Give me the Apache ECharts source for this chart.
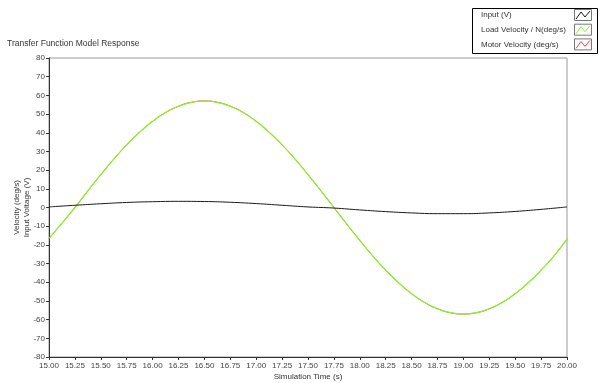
<!DOCTYPE html>
<html>
<head>
<meta charset="utf-8">
<script src="https://cdn.jsdelivr.net/npm/echarts@6/dist/echarts.min.js"></script>
<style>html,body{margin:0;padding:0;background:#fff}#c{width:600px;height:383px}</style>
</head>
<body>
<div id="c"></div>
<script>
const title = 'Transfer Function Model Response';
const xName = 'Simulation Time (s)';
const yName = 'Velocity (deg/s)\nInput Voltage (V)';
const seriesNames = ['Input (V)', 'Load Velocity / N(deg/s)', 'Motor Velocity (deg/s)'];

const velTime = [15.0,15.125,15.25,15.375,15.5,15.625,15.75,15.875,16.0,16.125,16.25,16.375,16.5,16.625,16.75,16.875,17.0,17.125,17.25,17.375,17.5,17.625,17.75,17.875,18.0,18.125,18.25,18.375,18.5,18.625,18.75,18.875,19.0,19.125,19.25,19.375,19.5,19.625,19.75,19.875,20.0];
const loadVel = [-16.5,-8.4,0,8.9,17.6,25.9,33.5,40.3,46.1,50.8,54.2,56.3,57.0,56.3,54.2,50.8,46.1,40.3,33.5,25.9,17.6,8.9,0,-8.9,-17.6,-25.9,-33.5,-40.3,-46.1,-50.8,-54.2,-56.3,-57.0,-56.3,-54.2,-50.8,-46.1,-40.3,-33.5,-25.9,-16.8];
const motorVel = [-16.5,-8.4,0,8.9,17.6,25.9,33.5,40.3,46.1,50.8,54.2,56.3,57.0,56.3,54.2,50.8,46.1,40.3,33.5,25.9,17.6,8.9,0,-8.9,-17.6,-25.9,-33.5,-40.3,-46.1,-50.8,-54.2,-56.3,-57.0,-56.3,-54.2,-50.8,-46.1,-40.3,-33.5,-25.9,-16.8];

const inputTime = [15.0,15.25,15.5,15.75,16.0,16.25,16.5,16.75,17.0,17.25,17.5,17.75,18.0,18.25,18.5,18.75,19.0,19.25,19.5,19.75,20.0];
const inputV = [0.3,1.2,2.0,2.7,3.1,3.3,3.2,2.8,2.1,1.2,0.3,-0.3,-1.3,-2.2,-2.9,-3.3,-3.3,-2.9,-2.1,-1.0,0.3];

const xTicks = {min: 15, max: 20, step: 0.25};
const yTicks = {min: -80, max: 80, step: 10};

const colors = ['#1a1a1a', '#84f52a', '#ff4040'];
const pair = (xs, ys) => xs.map((x, i) => [x, ys[i]]);

const chart = echarts.init(document.getElementById('c'), null, {renderer: 'canvas'});
const font = 'Liberation Sans';

const legendG = [];
legendG.push({type: 'rect', shape: {x: 472.5, y: 8.5, width: 125, height: 45}, style: {fill: '#fff', stroke: '#000', lineWidth: 1}, z: 10});
seriesNames.forEach((n, i) => {
  const cy = 15 + i * 14.7;
  legendG.push({type: 'text', x: 481, y: cy, style: {text: n, font: '8px ' + font, fill: '#333', verticalAlign: 'middle'}, z: 11});
  legendG.push({type: 'rect', shape: {x: 574.5, y: cy - 5.5, width: 17, height: 11}, style: {fill: '#fff', stroke: '#777', lineWidth: 1}, z: 11});
  legendG.push({type: 'polyline', shape: {points: [[576, cy + 4], [581, cy - 3], [585, cy + 2], [590, cy - 4]]}, style: {stroke: colors[i], lineWidth: 1, fill: null}, z: 12});
});

chart.setOption({
  animation: false,
  backgroundColor: '#fff',
  textStyle: {fontFamily: font},
  title: {text: title, left: 7, top: 39, padding: 0, textStyle: {fontSize: 8.5, fontWeight: 'normal', color: '#333', fontFamily: font}},
  grid: {left: 49, right: 33, top: 58, bottom: 26, containLabel: false, outerBoundsMode: 'none', show: true, borderColor: '#999', borderWidth: 1, backgroundColor: 'transparent'},
  xAxis: {
    type: 'value', min: xTicks.min, max: xTicks.max, interval: xTicks.step,
    name: xName, nameLocation: 'middle', nameGap: 16, nameMoveOverlap: false,
    nameTextStyle: {fontSize: 8, color: '#333', fontFamily: font},
    axisLine: {show: true, onZero: false, lineStyle: {color: '#333'}},
    axisTick: {show: true, length: 3, lineStyle: {color: '#333'}},
    axisLabel: {fontSize: 8, color: '#444', margin: 5, formatter: v => v.toFixed(2), fontFamily: font},
    splitLine: {show: false}
  },
  yAxis: {
    type: 'value', min: yTicks.min, max: yTicks.max, interval: yTicks.step,
    name: yName, nameLocation: 'middle', nameGap: 17, nameRotate: 90, nameMoveOverlap: false,
    nameTextStyle: {fontSize: 8, color: '#333', lineHeight: 10, fontFamily: font},
    axisLine: {show: true, onZero: false, lineStyle: {color: '#333'}},
    axisTick: {show: true, length: 3, lineStyle: {color: '#333'}},
    axisLabel: {fontSize: 8, color: '#444', margin: 4, fontFamily: font},
    splitLine: {show: false}
  },
  series: [
    {name: seriesNames[2], type: 'line', data: pair(velTime, motorVel), smooth: true, showSymbol: false, lineStyle: {color: colors[2], width: 1}, z: 2},
    {name: seriesNames[1], type: 'line', data: pair(velTime, loadVel), smooth: true, showSymbol: false, lineStyle: {color: colors[1], width: 1.2}, z: 3},
    {name: seriesNames[0], type: 'line', data: pair(inputTime, inputV), smooth: true, showSymbol: false, lineStyle: {color: colors[0], width: 1}, z: 4}
  ],
  graphic: legendG
});
</script>
</body>
</html>
